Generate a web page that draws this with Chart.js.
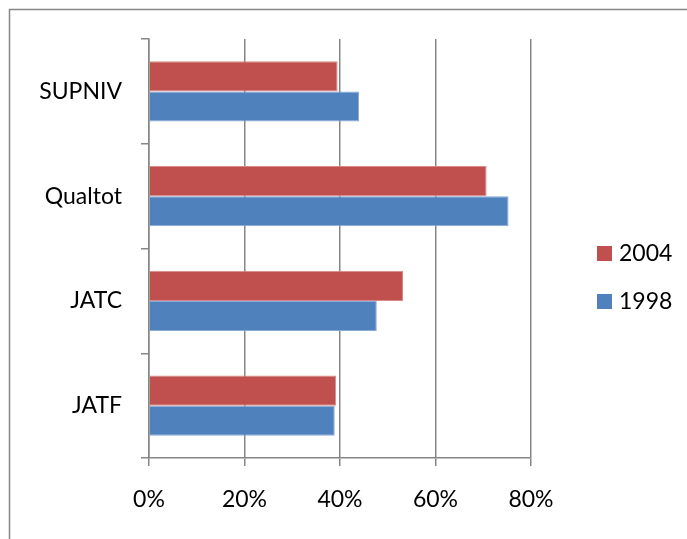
<!DOCTYPE html>
<html>
<head>
<meta charset="utf-8">
<script src="https://cdn.jsdelivr.net/npm/chart.js@4/dist/chart.umd.min.js"></script>
<style>
  html, body { margin: 0; padding: 0; background: #fff; }
  #wrap { width: 687px; height: 539px; position: relative; }
</style>
</head>
<body>
<div id="wrap"><canvas id="chart" width="687" height="539"></canvas></div>
<script>
const categories = ["SUPNIV", "Qualtot", "JATC", "JATF"];
const values2004 = [0.395, 0.707, 0.532, 0.392];
const values1998 = [0.440, 0.753, 0.477, 0.389];
const xTicks = [0, 0.2, 0.4, 0.6, 0.8];

const red = "#C0504D";
const blue = "#4F81BD";
const axisGrey = "#868686";
const font = "Lato, 'DejaVu Sans', sans-serif";

// outer frame + legend drawn on canvas
const framePlugin = {
  id: "frame",
  beforeDraw(chart) {
    const ctx = chart.ctx;
    ctx.save();
    ctx.fillStyle = "#fff";
    ctx.fillRect(0, 0, chart.width, chart.height);
    ctx.strokeStyle = axisGrey;
    ctx.lineWidth = 1.5;
    ctx.strokeRect(9.5, 9.5, 700, 600);
    ctx.restore();
  },
  afterDraw(chart) {
    const ctx = chart.ctx;
    ctx.save();
    ctx.font = "23px " + font;
    ctx.textBaseline = "middle";
    const ys = [253, 301];
    chart.data.datasets.forEach((ds, i) => {
      ctx.fillStyle = ds.backgroundColor;
      ctx.fillRect(597, ys[i] - 7, 15, 15);
      ctx.fillStyle = "#000";
      ctx.fillText(ds.label, 619, ys[i] + 1);
    });
    ctx.restore();
  }
};

new Chart(document.getElementById("chart"), {
  type: "bar",
  data: {
    labels: categories,
    datasets: [
      { label: "2004", data: values2004, backgroundColor: red, borderColor: "#D98A88", borderWidth: 1 },
      { label: "1998", data: values1998, backgroundColor: blue, borderColor: "#8AAAD6", borderWidth: 1 }
    ]
  },
  options: {
    indexAxis: "y",
    responsive: false,
    animation: false,
    devicePixelRatio: 1,
    categoryPercentage: 0.575,
    barPercentage: 1,
    layout: { padding: { left: 0, top: 39, right: 687 - 531, bottom: 0 } },
    plugins: {
      legend: { display: false },
      tooltip: { enabled: false }
    },
    scales: {
      x: {
        min: 0,
        max: 0.8,
        afterBuildTicks(scale) {
          scale.ticks = xTicks.map(v => ({ value: v }));
        },
        afterFit(scale) { scale.height = 539 - 458; },
        grid: { color: axisGrey, lineWidth: 1.5, tickLength: 8 },
        border: { color: axisGrey, width: 1.5 },
        ticks: {
          color: "#000",
          padding: 20,
          font: { family: font, size: 23 },
          callback: v => Math.round(v * 100) + "%"
        }
      },
      y: {
        afterFit(scale) { scale.width = 149; },
        grid: { drawOnChartArea: false, offset: true, color: axisGrey, lineWidth: 1.5, tickLength: 8 },
        border: { color: axisGrey, width: 1.5 },
        ticks: {
          color: "#000",
          padding: 19,
          font: { family: font, size: 23 }
        }
      }
    }
  },
  plugins: [framePlugin]
});
</script>
</body>
</html>
